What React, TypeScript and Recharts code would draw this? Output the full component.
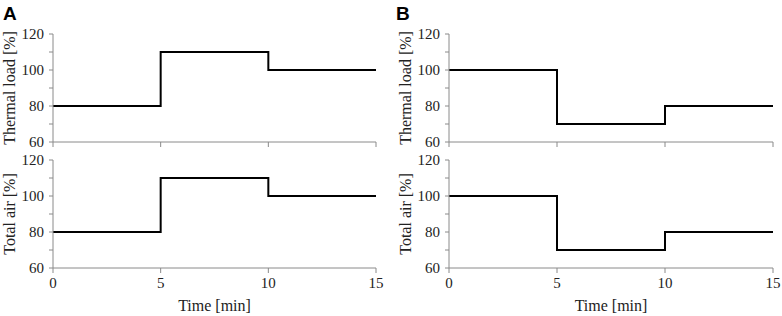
import React from 'react';
import { LineChart, Line, XAxis, YAxis } from 'recharts';

const timeMin = [0, 5, 10, 15];
const thermalLoadA = [80, 110, 100, 100];
const totalAirA = [80, 110, 100, 100];
const thermalLoadB = [100, 70, 80, 80];
const totalAirB = [100, 70, 80, 80];
const xTicks = [0, 5, 10, 15];
const yTicks = [60, 70, 80, 90, 100, 110, 120];

const serif = '"Liberation Serif", "Times New Roman", serif';
const axisGray = '#8a8a8a';
const labelStyle = { fontFamily: serif, fontSize: 16, fill: '#222' };

const toRows = (values: number[]) => timeMin.map((t, i) => ({ t, v: values[i] }));

// serif tick text (the tick object prop ignored fontFamily)
const SerifTick = (props: any) => {
  const { x, y, payload, textAnchor, tickFormatter, dyEm } = props;
  const txt = tickFormatter ? tickFormatter(payload.value) : String(payload.value);
  if (!txt) return null;
  return (
    <text x={x} y={y} dy={dyEm} textAnchor={textAnchor} style={{ fontFamily: serif, fontSize: 15, fill: '#222' }}>
      {txt}
    </text>
  );
};

interface PanelProps {
  values: number[];
  yLabel: string;
  showX: boolean;
  left: number;
  top: number;
  width: number;
  height: number;
  yWidth: number;
  labelOffset: number;
  marginTop: number;
  marginRight: number;
}

function Panel({ values, yLabel, showX, left, top, width, height, yWidth, labelOffset, marginTop, marginRight }: PanelProps) {
  return (
    <div style={{ position: 'absolute', left, top, fontFamily: serif }}>
      <LineChart
        width={width}
        height={height}
        data={toRows(values)}
        margin={{ top: marginTop, right: marginRight, left: 0, bottom: 0 }}
      >
        <XAxis
          dataKey="t"
          type="number"
          domain={[0, 15]}
          ticks={xTicks}
          interval={0}
          tickFormatter={(v) => (showX ? String(v) : '')}
          tick={<SerifTick dyEm="0.71em" />}
          tickSize={5}
          tickMargin={4}
          stroke={axisGray}
          height={showX ? 48 : 8}
          label={showX ? { value: 'Time [min]', position: 'insideBottom', offset: 5, style: labelStyle } : undefined}
        />
        <XAxis xAxisId="top" orientation="top" dataKey="t" type="number" domain={[0, 15]} tick={false} tickLine={false} stroke={axisGray} height={0} />
        <YAxis
          domain={[60, 120]}
          ticks={yTicks}
          interval={0}
          tickFormatter={(v) => (v % 20 === 0 ? String(v) : '')}
          tick={<SerifTick dyEm="0.355em" />}
          tickSize={4}
          tickMargin={5}
          stroke={axisGray}
          width={yWidth}
          label={{ value: yLabel, angle: -90, position: 'insideLeft', offset: labelOffset, style: { ...labelStyle, textAnchor: 'middle' } }}
        />
        <YAxis yAxisId="right" orientation="right" domain={[60, 120]} tick={false} tickLine={false} stroke={axisGray} width={0} />
        <Line type="stepAfter" dataKey="v" stroke="#000" strokeWidth={2} dot={false} isAnimationActive={false} />
      </LineChart>
    </div>
  );
}

const letterStyle: React.CSSProperties = {
  position: 'absolute',
  fontFamily: '"Liberation Sans", Arial, sans-serif',
  fontWeight: 'bold',
  fontSize: 19,
  lineHeight: '19px',
};

export default function App() {
  return (
    <div style={{ position: 'absolute', left: 0, top: 0, width: 782, height: 316, background: '#fff', overflow: 'hidden' }}>
      <div style={{ ...letterStyle, left: 3, top: 4 }}>A</div>
      <div style={{ ...letterStyle, left: 396, top: 4 }}>B</div>
      <Panel values={thermalLoadA} yLabel="Thermal load [%]" showX={false} left={0} top={0} width={390} height={150} yWidth={53} labelOffset={9} marginTop={34} marginRight={14} />
      <Panel values={totalAirA} yLabel="Total air [%]" showX={true} left={0} top={150} width={390} height={166} yWidth={53} labelOffset={9} marginTop={10} marginRight={14} />
      <Panel values={thermalLoadB} yLabel="Thermal load [%]" showX={false} left={390} top={0} width={392} height={150} yWidth={59} labelOffset={15} marginTop={34} marginRight={9} />
      <Panel values={totalAirB} yLabel="Total air [%]" showX={true} left={390} top={150} width={392} height={166} yWidth={59} labelOffset={15} marginTop={10} marginRight={9} />
    </div>
  );
}
